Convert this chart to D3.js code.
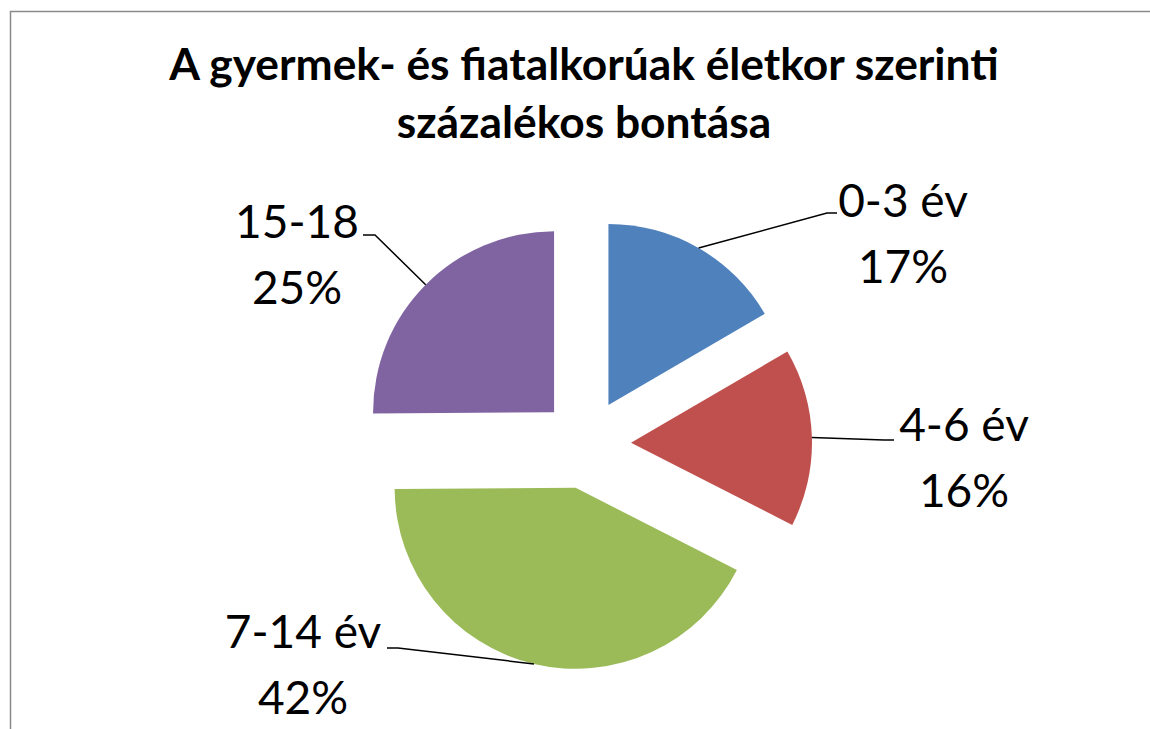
<!DOCTYPE html>
<html>
<head>
<meta charset="utf-8">
<script src="https://cdn.jsdelivr.net/npm/d3@7"></script>
<style>
  html, body { margin: 0; padding: 0; background: #fff; }
  svg { display: block; }
</style>
</head>
<body>
<svg id="chart" width="1150" height="729"></svg>
<script>
// ---- data ----
const titleLines = ["A gyermek- és fiatalkorúak életkor szerinti", "százalékos bontása"];
const categories = ["0-3 év", "4-6 év", "7-14 év", "15-18"];
const values = [16.6, 15.9, 42.4, 25.1];

// ---- styles / layout ----
const colors = ["#4F81BD", "#C0504D", "#9BBB59", "#8064A2"];
const W = 1150, H = 729;
const cx = 586, cy = 444, R = 181, explode = 45;
// label anchor (center x, first baseline y), leader bend and end points
const labelLayout = [
  { x: 903, y: 217, bend: [827, 213], end: [837, 213] },
  { x: 964, y: 441, bend: [884, 440], end: [894, 440] },
  { x: 303, y: 648, bend: [398, 648], end: [387, 648] },
  { x: 297, y: 238, bend: [375, 235], end: [363, 235] }
];
const lineGap = 66;

const svg = d3.select("#chart");

// frame (partially visible chart border)
svg.append("path")
  .attr("d", `M10.5,${H} L10.5,11.5 L${W},11.5`)
  .attr("fill", "none")
  .attr("stroke", "#8a8a8a")
  .attr("stroke-width", 1.5);

// title
const titleFont = "Lato, 'Open Sans', sans-serif";
const title = svg.append("text")
  .attr("text-anchor", "middle")
  .attr("font-family", titleFont)
  .attr("font-weight", "bold")
  .attr("font-size", 41)
  .attr("fill", "#000");
title.append("tspan").attr("x", 584).attr("y", 80).text(titleLines[0]);
title.append("tspan").attr("x", 584).attr("y", 138).text(titleLines[1]);
// fit first line width to reference
{
  const w = title.select("tspan").node().getComputedTextLength();
  const target = 830;
  const fs = 41 * target / w;
  title.attr("font-size", Math.max(36, Math.min(46, fs)));
}

// pie
const pie = d3.pie().sort(null).value(d => d);
const arcs = pie(values);
const arc = d3.arc().innerRadius(0).outerRadius(R);
const edgeArc = d3.arc().innerRadius(R).outerRadius(R);

function offset(d) {
  const a = (d.startAngle + d.endAngle) / 2;
  return [cx + explode * Math.sin(a), cy - explode * Math.cos(a)];
}

const g = svg.append("g");
g.selectAll("path.slice")
  .data(arcs)
  .join("path")
  .attr("class", "slice")
  .attr("transform", d => `translate(${offset(d)[0]},${offset(d)[1]})`)
  .attr("d", arc)
  .attr("fill", (d, i) => colors[i]);

// leader lines
const total = d3.sum(values);
const pct = d3.format(".0%");
g.selectAll("path.leader")
  .data(arcs)
  .join("path")
  .attr("class", "leader")
  .attr("fill", "none")
  .attr("stroke", "#000")
  .attr("stroke-width", 1.5)
  .attr("d", (d, i) => {
    const o = offset(d);
    const c = edgeArc.centroid(d);
    const L = labelLayout[i];
    return d3.line()([[o[0] + c[0], o[1] + c[1]], L.bend, L.end]);
  });

// labels
const labelFont = "Lato, 'Open Sans', sans-serif";
const labels = svg.append("g").selectAll("text.lbl")
  .data(arcs)
  .join("text")
  .attr("class", "lbl")
  .attr("text-anchor", "middle")
  .attr("font-family", labelFont)
  .attr("font-size", 46)
  .attr("fill", "#000");
labels.append("tspan")
  .attr("x", (d, i) => labelLayout[i].x)
  .attr("y", (d, i) => labelLayout[i].y)
  .text((d, i) => categories[i]);
labels.append("tspan")
  .attr("x", (d, i) => labelLayout[i].x)
  .attr("y", (d, i) => labelLayout[i].y + lineGap)
  .text(d => pct(d.value / total));
</script>
</body>
</html>
